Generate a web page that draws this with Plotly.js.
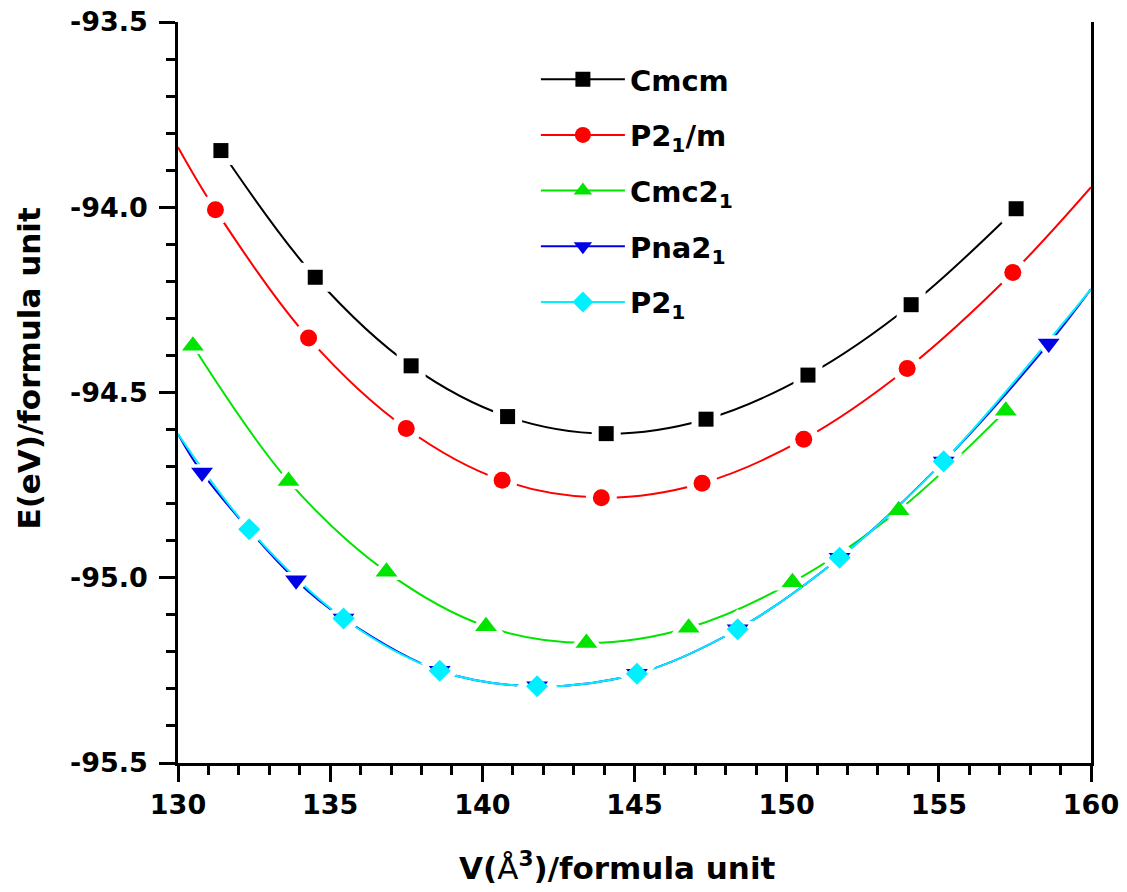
<!DOCTYPE html>
<html>
<head>
<meta charset="utf-8">
<script src="https://cdn.plot.ly/plotly-3.0.1.min.js"></script>
<style>html,body{margin:0;padding:0;background:#fff;}#chart{width:1127px;height:892px;}</style>
</head>
<body>
<div id="chart"></div>
<script>
// ---- data (V in Å^3, E in eV per formula unit) ----
const seriesNames = ['Cmcm', 'P2<sub>1</sub>/m', 'Cmc2<sub>1</sub>', 'Pna2<sub>1</sub>', 'P2<sub>1</sub>'];

const vCmcm  = [131.41, 134.51, 137.66, 140.83, 144.07, 147.35, 150.70, 154.09, 157.54];
const eCmcm  = [-93.847, -94.189, -94.428, -94.565, -94.611, -94.572, -94.453, -94.263, -94.004];

const vP21m  = [131.23, 134.29, 137.50, 140.65, 143.91, 147.22, 150.56, 153.96, 157.43];
const eP21m  = [-94.007, -94.353, -94.597, -94.737, -94.784, -94.745, -94.626, -94.435, -94.176];

const vCmc21 = [130.49, 133.63, 136.85, 140.12, 143.42, 146.78, 150.19, 153.68, 157.20];
const eCmc21 = [-94.374, -94.739, -94.984, -95.131, -95.176, -95.135, -95.012, -94.818, -94.549];

const vPna21 = [130.79, 133.88, 135.44, 138.60, 141.80, 145.08, 148.39, 151.74, 155.16, 158.61];
const ePna21 = [-94.716, -95.007, -95.110, -95.251, -95.293, -95.259, -95.139, -94.946, -94.686, -94.368];

const vP21   = [132.34, 135.44, 138.60, 141.80, 145.08, 148.39, 151.74, 155.16];
const eP21   = [-94.869, -95.110, -95.251, -95.293, -95.259, -95.139, -94.946, -94.686];

// fitted-curve values where the fit curves meet the frame (V = 130 and V = 160)
const fitEdgeV     = [130, 160];
const fitEdgeP21m  = [-93.838, -93.946];
const fitEdgePna21 = [-94.612, -94.221];
const fitEdgeP21   = [-94.612, -94.221];

// axis ticks and titles
const xTickVals = [130, 135, 140, 145, 150, 155, 160];
const xTickText = ['130', '135', '140', '145', '150', '155', '160'];
const yTickVals = [-95.5, -95.0, -94.5, -94.0, -93.5];
const yTickText = ['-95.5', '-95.0', '-94.5', '-94.0', '-93.5'];
const xTitle = 'V(<span style="font-weight:normal">Å</span><sup>3</sup>)/formula unit';
const yTitle = 'E(eV)/formula unit';

// ---- styles ----
const colors  = ['#000000', '#ff0000', '#00e400', '#0000e6', '#00f0ff'];
const symbols = ['square', 'circle', 'triangle-up', 'triangle-down', 'diamond'];
const sizes   = [15, 17, 19, 19, 17];
const FONT = 'DejaVu Sans, Verdana, Arial, sans-serif';

const vData = [vCmcm, vP21m, vCmc21, vPna21, vP21];
const eData = [eCmcm, eP21m, eCmc21, ePna21, eP21];
const edges = [null, fitEdgeP21m, null, fitEdgePna21, fitEdgeP21];

function curveX(i) {
  return edges[i] ? [fitEdgeV[0], ...vData[i], fitEdgeV[1]] : vData[i].slice();
}
function curveY(i) {
  return edges[i] ? [edges[i][0], ...eData[i], edges[i][1]] : eData[i].slice();
}
function lineTrace(i) {
  return {
    x: curveX(i), y: curveY(i), type: 'scatter', mode: 'lines',
    line: {color: colors[i], width: 2, shape: 'spline', smoothing: 1},
    showlegend: false, hoverinfo: 'skip', legendgroup: 'g' + i
  };
}
function maskTrace(i) {
  // white halo that opens a small gap in the curve around each symbol
  return {
    x: vData[i], y: eData[i], type: 'scatter', mode: 'markers',
    marker: {symbol: symbols[i], size: sizes[i] + 14, color: '#ffffff', line: {width: 0}},
    showlegend: false, hoverinfo: 'skip', legendgroup: 'g' + i
  };
}
function markerTrace(i) {
  // markers with a broken (never drawn) line so that the legend shows line + symbol
  const xs = [], ys = [];
  vData[i].forEach((v, k) => { xs.push(v, v); ys.push(eData[i][k], null); });
  return {
    x: xs, y: ys, type: 'scatter', mode: 'lines+markers', connectgaps: false,
    name: seriesNames[i], legendgroup: 'g' + i,
    line: {color: colors[i], width: 2},
    marker: {symbol: symbols[i], size: sizes[i], color: colors[i], line: {width: 0}}
  };
}

const traces = [
  lineTrace(0), maskTrace(0),
  lineTrace(1), maskTrace(1),
  lineTrace(2), maskTrace(2),
  lineTrace(3), lineTrace(4), maskTrace(3), maskTrace(4),
  markerTrace(0), markerTrace(1), markerTrace(2), markerTrace(3), markerTrace(4)
];

const axisCommon = {
  showline: true, linecolor: '#000', linewidth: 2.5,
  ticks: 'outside', ticklen: 16, tickwidth: 2.5, tickcolor: '#000',
  showgrid: false, zeroline: false,
  tickfont: {family: FONT, size: 27, color: '#000', weight: 'bold'},
  tickmode: 'array'
};

const layout = {
  width: 1127, height: 892,
  margin: {l: 178, r: 36, t: 22, b: 129},
  paper_bgcolor: '#ffffff', plot_bgcolor: '#ffffff',
  font: {family: FONT, size: 27, color: '#000', weight: 'bold'},
  xaxis: Object.assign({}, axisCommon, {
    range: [130, 160], tickvals: xTickVals, ticktext: xTickText,
    minor: {dtick: 1, tick0: 130, ticks: 'outside', ticklen: 9, tickwidth: 2.5, tickcolor: '#000', showgrid: false},
    mirror: false
  }),
  yaxis: Object.assign({}, axisCommon, {
    range: [-95.5, -93.5], tickvals: yTickVals, ticktext: yTickText,
    minor: {dtick: 0.1, tick0: -95.5, ticks: 'outside', ticklen: 9, tickwidth: 2.5, tickcolor: '#000', showgrid: false},
    mirror: true, ticklabelstandoff: 6
  }),
  annotations: [
    {text: xTitle, xref: 'paper', yref: 'paper', x: 0.481, y: 0, yshift: -103,
     xanchor: 'center', yanchor: 'middle', showarrow: false,
     font: {family: FONT, size: 31, color: '#000', weight: 'bold'}},
    {text: yTitle, xref: 'paper', yref: 'paper', x: 0, xshift: -150, y: 0.5, yshift: 24,
     xanchor: 'center', yanchor: 'middle', textangle: -90, showarrow: false,
     font: {family: FONT, size: 31, color: '#000', weight: 'bold'}}
  ],
  legend: {
    x: 0.392, y: 0.957, xanchor: 'left', yanchor: 'top',
    bgcolor: 'rgba(0,0,0,0)', borderwidth: 0,
    font: {family: FONT, size: 29, color: '#000', weight: 'bold'},
    itemwidth: 84, tracegroupgap: 15
  },
  showlegend: true
};

Plotly.newPlot('chart', traces, layout, {displayModeBar: false});
</script>
</body>
</html>
